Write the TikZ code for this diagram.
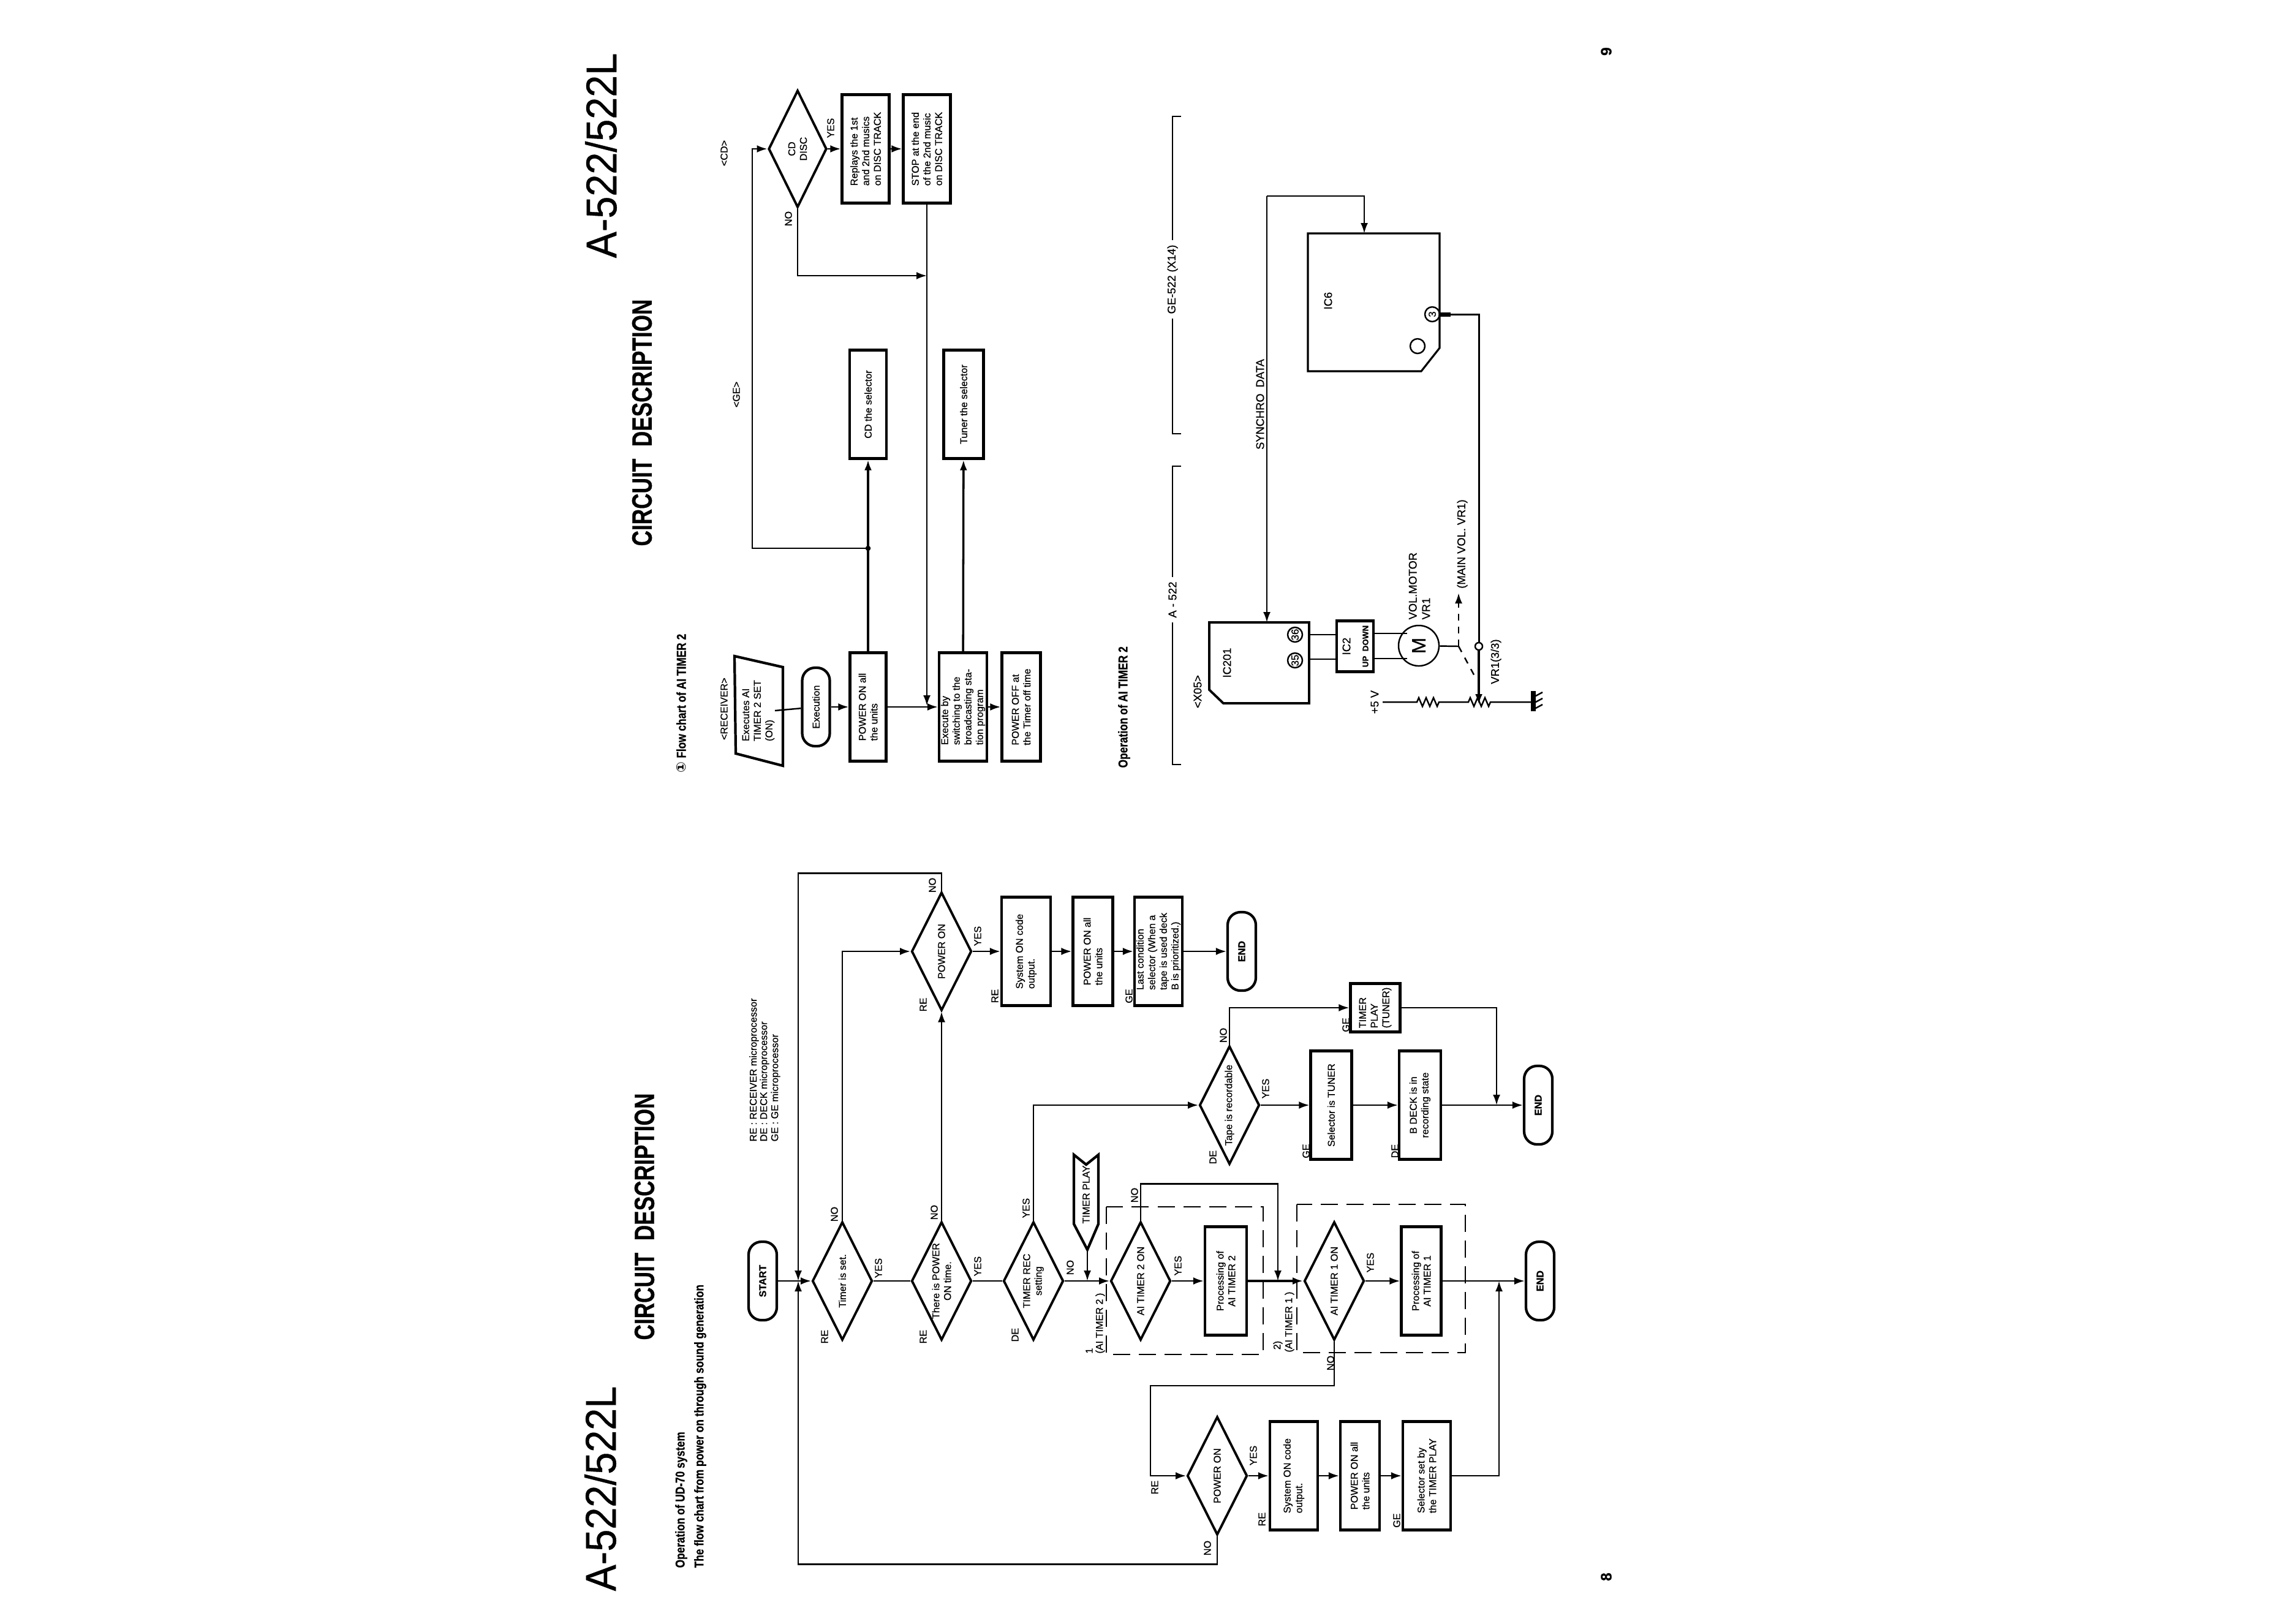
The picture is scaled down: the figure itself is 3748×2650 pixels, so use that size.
\documentclass[tikz,border=0pt]{standalone}
\usepackage{graphicx}
\usepackage{fontspec}
\setmainfont{Liberation Sans}[RawFeature={embolden=0.6}]
\newfontfamily\symfont{DejaVu Sans}
\usetikzlibrary{shapes.geometric,arrows.meta}
\tikzset{
  every node/.style={rotate=90,inner sep=0pt,font=\fontsize{4.6}{5.4}\selectfont},
  wire/.style={line width=0.7pt},
  flow/.style={wire,-{Latex[length=0.17cm,width=0.12cm]}},
  fatwire/.style={line width=0.85pt},
  flowbox/.style={draw,line width=1.2pt,rectangle,minimum width=1.77cm,minimum height=0.66cm,align=left},
  decision/.style={draw,line width=1.1pt,diamond,aspect=2,minimum width=1.93cm,minimum height=0.98cm,align=center},
  terminal/.style={draw,line width=1.2pt,rectangle,rounded corners=0.21cm,minimum width=1.28cm,minimum height=0.46cm,align=center},
  dashbox/.style={line width=0.75pt,dash pattern=on 0.28cm off 0.14cm},
  pin/.style={draw,wire,circle,minimum size=0.24cm,font=\fontsize{4.8}{5}\selectfont},
  bigtitle/.style={font=\fontsize{20}{20}\selectfont},
  headline/.style={font=\fontsize{13}{13}\selectfont\bfseries},
  subhead/.style={anchor=west,font=\fontsize{6}{7}\selectfont\bfseries},
  legendline/.style={anchor=west,font=\fontsize{4.6}{5.4}\selectfont},
  schem/.style={font=\fontsize{5.2}{6.2}\selectfont},
  pagenum/.style={font=\fontsize{7}{7}\selectfont\bfseries}
}
\begin{document}
\begin{tikzpicture}[x=0.01cm,y=-0.01cm]
\useasboundingbox (0,0) rectangle (3748,2650);

\node[bigtitle] (titlea) at (980,2430) {\scalebox{0.92}[1]{A-522/522L}};
\node[headline] (heada) at (1052,1986) {\scalebox{0.77}[1]{CIRCUIT\ \ DESCRIPTION}};
\node[subhead] (opera) at (1112,2560) {\scalebox{0.82}[1]{Operation of UD-70 system}};
\node[subhead] (operb) at (1143,2560) {\scalebox{0.82}[1]{The flow chart from power on through sound generation}};
\node[legendline] (lega) at (1231,1864) {RE : RECEIVER microprocessor};
\node[legendline] (legb) at (1248,1864) {DE : DECK microprocessor};
\node[legendline] (legc) at (1266,1864) {GE : GE microprocessor};

\node[terminal,font=\fontsize{4.6}{5.4}\selectfont\bfseries] (start) at (1245,2091) {START};
\node[decision] (timerset) at (1375,2091) {Timer is set.};
\node[decision] (powertime) at (1537,2091) {There is POWER\\ON time.};
\node[decision] (timerrec) at (1687,2091) {TIMER REC\\setting};
\node[decision] (aitwo) at (1862,2091) {AI TIMER 2 ON};
\node[flowbox,minimum height=0.68cm,align=center] (proctwo) at (2001,2091) {Processing of\\AI TIMER 2};
\node[decision] (aione) at (2178,2091) {AI TIMER 1 ON};
\node[flowbox,minimum height=0.65cm,align=center] (procone) at (2320,2091) {Processing of\\AI TIMER 1};
\node[terminal,font=\fontsize{4.6}{5.4}\selectfont\bfseries] (endb) at (2514,2091) {END};

\node[decision] (powera) at (1537,1553) {POWER ON};
\node[flowbox,minimum height=0.80cm] (sysa) at (1675,1553) {System ON code\\output.};
\node[flowbox,minimum height=0.65cm] (unitsa) at (1784,1553) {POWER ON all\\the units};
\node[flowbox,minimum height=0.78cm] (lastcond) at (1891,1553) {Last condition\\selector (When a\\tape is used deck\\B is prioritized.)};
\node[terminal,font=\fontsize{4.6}{5.4}\selectfont\bfseries] (enda) at (2027,1553) {END};

\node[decision] (tape) at (2007,1804) {Tape is recordable};
\node[flowbox,minimum height=0.67cm,align=center] (seltuner) at (2173,1804) {Selector is TUNER};
\node[flowbox,minimum height=0.68cm,align=center] (bdeck) at (2318,1804) {B DECK is in\\recording state};
\node[terminal,font=\fontsize{4.6}{5.4}\selectfont\bfseries] (endc) at (2511,1804) {END};
\node[flowbox,minimum width=0.79cm,minimum height=0.81cm] (tplaybox) at (2245,1645) {TIMER\\PLAY\\(TUNER)};

\node[decision] (powerb) at (1987,2409) {POWER ON};
\node[flowbox,minimum height=0.78cm] (sysb) at (2112,2409) {System ON code\\output.};
\node[flowbox,minimum height=0.64cm] (unitsb) at (2220,2409) {POWER ON all\\the units};
\node[flowbox,minimum height=0.78cm] (selplay) at (2329,2409) {Selector set by\\the TIMER PLAY};

\draw[line width=1.2pt] (1753,1885) -- (1773,1901) -- (1793,1885) -- (1793,1998) -- (1775,2040) -- (1753,1998) -- cycle;
\node (tplay) at (1773,1950) {TIMER PLAY};
\coordinate (tplaytip) at (1775,2040);

\coordinate (jstart) at (1303,2091);
\coordinate (jplay) at (1775,2091);
\coordinate (jaitwo) at (2086,2091);
\coordinate (jendb) at (2447,2091);
\coordinate (jendc) at (2443,1804);
\coordinate (turnai) at (1878,2262);

\draw[flow] (start) -- (timerset);
\draw[flow] (powera.east) -- ++(0,-29) -| (jstart);
\draw[flow] (powerb.west) -- ++(0,46) -| (jstart);
\draw[wire] (timerset) -- (powertime);
\draw[wire] (powertime) -- (timerrec);
\draw[flow] (timerrec) -- (aitwo);
\draw[flow] (tplaytip) -- (jplay);
\draw[flow] (aitwo) -- (proctwo);
\draw[flow,line width=1pt] (proctwo) -- (aione);
\draw[flow] (aione) -- (procone);
\draw[flow] (procone) -- (endb);
\draw[flow] (timerset.east) |- (powera.north);
\draw[flow] (powertime.east) -- (powera.west);
\draw[flow] (powera) -- (sysa);
\draw[flow] (sysa) -- (unitsa);
\draw[flow] (unitsa) -- (lastcond);
\draw[flow] (lastcond) -- (enda);
\draw[flow] (timerrec.east) |- (tape.north);
\draw[flow] (tape.east) |- (tplaybox.north);
\draw[flow] (tape) -- (seltuner);
\draw[flow] (seltuner) -- (bdeck);
\draw[flow] (bdeck) -- (endc);
\draw[flow] (tplaybox.south) -| (jendc);
\draw[flow] (aitwo.east) -- ++(0,-60) -| (jaitwo);
\draw[flow] (aione.west) |- (turnai) |- (powerb.north);
\draw[flow] (powerb) -- (sysb);
\draw[flow] (sysb) -- (unitsb);
\draw[flow] (unitsb) -- (selplay);
\draw[flow] (selplay.south) -| (jendb);

\draw[dashbox] (1806,1970) rectangle (2062,2211);
\draw[dashbox] (2117,1966) rectangle (2392,2208);
\node (aitwolbl) at (1796,2160) {(AI TIMER 2 )};
\node (numone) at (1778,2205) {1};
\node (aionelbl) at (2105,2158) {(AI TIMER 1 )};
\node (numtwo) at (2086,2196) {2)};

\node (rea) at (1346,2182) {RE};
\node (yesa) at (1434,2070) {YES};
\node (noa) at (1362,1982) {NO};
\node (reb) at (1507,2182) {RE};
\node (yesb) at (1596,2067) {YES};
\node (nob) at (1525,1979) {NO};
\node (dea) at (1657,2179) {DE};
\node (yesc) at (1675,1972) {YES};
\node (noc) at (1747,2069) {NO};
\node (yesd) at (1923,2066) {YES};
\node (nod) at (1852,1951) {NO};
\node (yese) at (2237,2061) {YES};
\node (noe) at (2172,2225) {NO};
\node (rec) at (1507,1640) {RE};
\node (yesf) at (1596,1528) {YES};
\node (nof) at (1522,1445) {NO};
\node (red) at (1624,1626) {RE};
\node (gea) at (1843,1626) {GE};
\node (nog) at (1997,1690) {NO};
\node (yesg) at (2066,1777) {YES};
\node (deb) at (1980,1889) {DE};
\node (geb) at (2132,1879) {GE};
\node (dec) at (2277,1879) {DE};
\node (gec) at (2197,1673) {GE};
\node (ree) at (1885,2428) {RE};
\node (yesh) at (2046,2376) {YES};
\node (noh) at (1971,2527) {NO};
\node (ref) at (2060,2480) {RE};
\node (ged) at (2280,2482) {GE};

\node[bigtitle] (titleb) at (981,254) {\scalebox{0.92}[1]{A-522/522L}};
\node[headline] (headb) at (1048,690) {\scalebox{0.77}[1]{CIRCUIT\ \ DESCRIPTION}};
\node[subhead] (flowhead) at (1112,1262) {{\symfont\char"2460}\ \scalebox{0.82}[1]{Flow chart of AI TIMER 2}};
\node (recv) at (1182,1157) {<RECEIVER>};
\node (geh) at (1202,644) {<GE>};
\node (cdh) at (1182,250) {<CD>};

\draw[line width=1.2pt] (1199,1071) -- (1278,1089) -- (1278,1250) -- (1201,1230) -- cycle;
\node[align=left] (aiset) at (1238,1160) {Executes AI\\TIMER 2 SET\\(ON)};
\node[terminal,minimum height=0.45cm] (execn) at (1332,1154) {Execution};
\node[flowbox,minimum height=0.59cm] (unitsc) at (1417,1154) {POWER ON all\\the units};
\node[flowbox,minimum height=0.78cm] (switchto) at (1572,1154) {Execute by\\switching to the\\broadcasting sta-\\tion program};
\node[flowbox,minimum height=0.63cm] (poweroff) at (1667,1154) {POWER OFF at\\the Timer off time};
\node[flowbox,minimum height=0.60cm,align=center] (cdsel) at (1417,660) {CD the selector};
\node[flowbox,minimum height=0.65cm,align=center] (tunersel) at (1573,660) {Tuner the selector};
\node[decision,minimum width=1.91cm,minimum height=0.95cm] (cddisc) at (1302,243) {CD\\DISC};
\node[flowbox,minimum height=0.77cm,align=left] (replays) at (1413,243) {Replays the 1st\\and 2nd musics\\on DISC TRACK};
\node[flowbox,minimum height=0.77cm,align=left] (stopend) at (1513,243) {STOP at the end\\of the 2nd music\\on DISC TRACK};
\node[draw,fill=black,circle,minimum size=0.07cm] (jcd) at (1417,895) {};
\coordinate (turncd) at (1228,895);
\coordinate (jstop) at (1513,1152);
\coordinate (jdisc) at (1513,450);

\draw[wire] (aiset.south) -- (execn);
\draw[flow] (execn) -- (unitsc);
\draw[flow] (unitsc) -- (switchto);
\draw[flow] (switchto) -- (poweroff);
\draw[flow,line width=1pt] (unitsc) -- (cdsel);
\draw[flow,line width=1pt] (switchto) -- (tunersel);
\draw[flow] (jcd) -- (turncd) |- (cddisc.north);
\draw[flow] (cddisc) -- (replays);
\draw[flow] (replays) -- (stopend);
\draw[flow] (cddisc.west) |- (jdisc);
\draw[flow] (stopend.west) -- (jstop);

\node (cdyes) at (1356,209) {YES};
\node (cdno) at (1287,357) {NO};

\node[subhead] (aihead) at (1835,1254) {\scalebox{0.82}[1]{Operation of AI TIMER 2}};
\node[fill=white,inner xsep=0.07cm,schem] (aname) at (1914,979) {A - 522};
\coordinate (abot) at (1914,1248);
\coordinate (atop) at (1914,761);
\draw[wire] (1928,1248) -- (abot) -- (aname) -- (atop) -- (1928,761);
\node[fill=white,inner xsep=0.07cm,schem] (gename) at (1914,456) {GE-522 (X14)};
\coordinate (gebot) at (1914,708);
\coordinate (getop) at (1914,190);
\draw[wire] (1928,708) -- (gebot) -- (gename) -- (getop) -- (1928,190);

\draw[line width=1.1pt] (1974,1016) -- (2137,1016) -- (2137,1148) -- (1997,1148) -- (1974,1126) -- cycle;
\draw[line width=0.9pt] (2135,381) -- (2350,381) -- (2350,568) -- (2320,606) -- (2135,606) -- cycle;
\coordinate (icin) at (2068,1016);
\coordinate (icsix) at (2227,381);
\coordinate (synturn) at (2068,320);
\draw[flow] (synturn) -- (icin);
\draw[flow] (synturn) -| (icsix);
\node[schem] (synchro) at (2057,660) {SYNCHRO\ \ DATA};
\node[schem] (xfive) at (1955,1129) {<X05>};
\node[schem] (icname) at (2003,1082) {IC201};
\node[schem] (icsixname) at (2168,491) {IC6};
\node[pin] (pinsix) at (2114,1036) {36};
\node[pin] (pinfive) at (2114,1078) {35};
\node[pin] (pinthree) at (2338,513) {3};
\node[pin] (markb) at (2314,565) {};

\node[draw,line width=1.2pt,minimum width=0.83cm,minimum height=0.60cm] (ictwo) at (2212,1055) {};
\node[schem] (ictwoname) at (2198,1055) {IC2};
\node[font=\fontsize{3.8}{4}\selectfont\bfseries] (updown) at (2229,1055) {UP\ \ DOWN};
\draw[wire] (2137,1036) -- (2182,1036);
\draw[wire] (2137,1076) -- (2182,1076);
\node[draw,wire,circle,minimum size=0.66cm,font=\fontsize{9}{9}\selectfont] (motor) at (2316,1054) {M};
\draw[wire] (2242,1034) -- (2297,1034);
\draw[wire] (2242,1075) -- (2297,1075);
\node[schem,anchor=west,align=left] (volmotor) at (2317,1012) {VOL.MOTOR\\VR1};
\coordinate (link) at (2381,1055);
\coordinate (linka) at (2381,968);
\coordinate (linkb) at (2409,1107);
\draw[wire] (motor) -- (link);
\draw[wire,dashed,-{Latex[length=0.17cm,width=0.12cm]}] (link) -- (linka);
\draw[wire,dashed] (link) -- (linkb);
\node[schem] (mainvol) at (2387,888) {(MAIN VOL. VR1)};
\node[draw,wire,circle,minimum size=0.12cm,fill=white] (vrnode) at (2414,1055) {};
\coordinate (wiper) at (2414,1150);
\draw[fatwire] (pinthree) -| (vrnode);
\draw[line width=2pt] (2351,513) -- (2368,513);
\draw[flow,line width=1pt] (vrnode) -- (wiper);
\node[schem] (vrthree) at (2442,1080) {VR1(3/3)};
\node[schem] (plusfive) at (2244,1146) {+5 V};
\draw[wire] (2257,1146) -- (2313,1146) -- ++(3,-7) -- ++(6,14) -- ++(6,-14) -- ++(6,14) -- ++(6,-14) -- ++(6,14) -- ++(3,-7) -- (2397,1146) -- ++(3,-7) -- ++(6,14) -- ++(6,-14) -- ++(6,14) -- ++(6,-14) -- ++(6,14) -- ++(3,-7) -- (2503,1146);
\draw[line width=2.2pt] (2503,1128) -- (2503,1161);
\draw[wire] (2505,1137) -- (2518,1130);
\draw[wire] (2505,1147) -- (2518,1140);
\draw[wire] (2505,1157) -- (2518,1150);

\node[pagenum] (pageeight) at (2622,2574) {8};
\node[pagenum] (pagenine) at (2622,84) {9};
\end{tikzpicture}
\end{document}
